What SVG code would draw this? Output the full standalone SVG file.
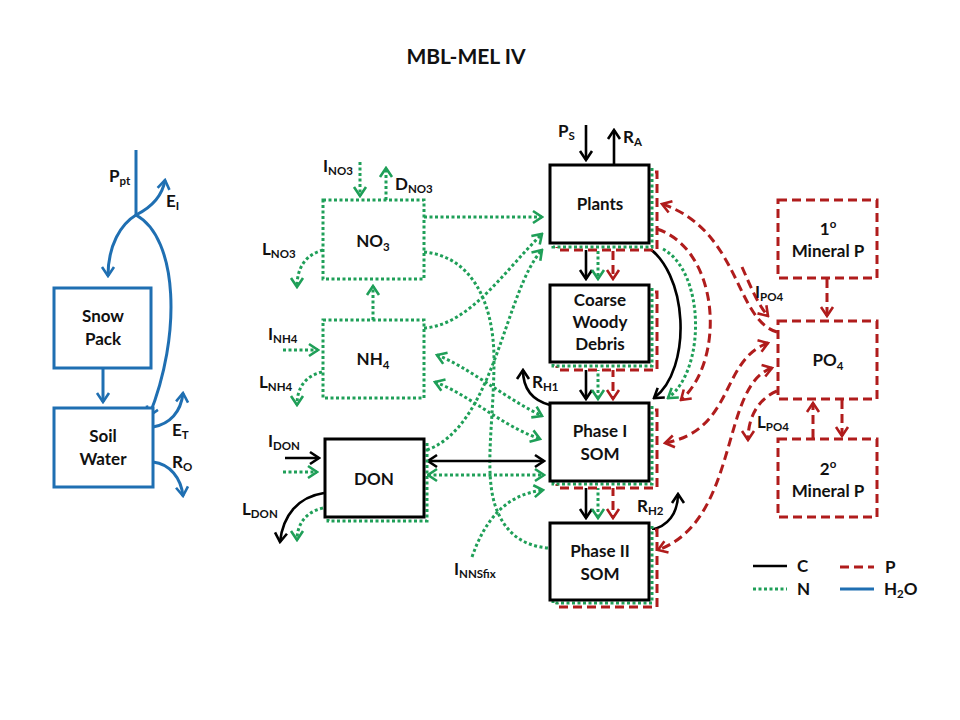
<svg xmlns="http://www.w3.org/2000/svg" width="960" height="720" viewBox="0 0 960 720">
<defs>
<style>
text { font-family: Lato, "Open Sans", "Liberation Sans", sans-serif; font-weight: bold; fill: #111; font-size: 17px; }
.box { text-anchor: middle; }
.sub { font-size: 11.5px; }
.c { fill: none; stroke: #000; stroke-width: 2.6; }
.n { fill: none; stroke: #1f9f58; stroke-width: 3; stroke-dasharray: 3 2.5; }
.p { fill: none; stroke: #b01c1c; stroke-width: 3; stroke-dasharray: 9 5; }
.w { fill: none; stroke: #1f6fb2; stroke-width: 3; }
.cb { fill: #fff; stroke: #000; stroke-width: 3; }
.wb { fill: #fff; stroke: #1f6fb2; stroke-width: 3; }
.nb { fill: #fff; stroke: #1f9f58; stroke-width: 3; stroke-dasharray: 3 2.5; }
.pb { fill: #fff; stroke: #b01c1c; stroke-width: 3; stroke-dasharray: 9 5; }
</style>
<marker id="mc" viewBox="-12 -8 14 16" markerWidth="14" markerHeight="16" refX="0" refY="0" orient="auto-start-reverse" markerUnits="userSpaceOnUse"><path d="M-9,-6 L0,0 L-9,6" fill="none" stroke="#000" stroke-width="2.6"/></marker>
<marker id="mn" viewBox="-12 -8 14 16" markerWidth="14" markerHeight="16" refX="0" refY="0" orient="auto-start-reverse" markerUnits="userSpaceOnUse"><path d="M-9,-6 L0,0 L-9,6" fill="none" stroke="#1f9f58" stroke-width="2.6"/></marker>
<marker id="mp" viewBox="-12 -8 14 16" markerWidth="14" markerHeight="16" refX="0" refY="0" orient="auto-start-reverse" markerUnits="userSpaceOnUse"><path d="M-9,-6 L0,0 L-9,6" fill="none" stroke="#b01c1c" stroke-width="2.6"/></marker>
<marker id="mw" viewBox="-12 -8 14 16" markerWidth="14" markerHeight="16" refX="0" refY="0" orient="auto-start-reverse" markerUnits="userSpaceOnUse"><path d="M-9,-6 L0,0 L-9,6" fill="none" stroke="#1f6fb2" stroke-width="2.6"/></marker>
</defs>
<rect width="960" height="720" fill="#fff"/>

<text id="title" x="466" y="64" text-anchor="middle" style="font-size:21px">MBL-MEL IV</text>

<g id="connectors">
  <!-- water -->
  <path class="w" d="M136,150 V215"/>
  <path class="w" d="M136,215 C150,208 162,198 165,180" marker-end="url(#mw)"/>
  <path class="w" d="M136,215 C121,224 108,245 108,276" marker-end="url(#mw)"/>
  <path class="w" d="M136,215 C178,238 182,335 149,416" marker-end="url(#mw)"/>
  <path class="w" d="M103,368 V402" marker-end="url(#mw)"/>
  <path class="w" d="M153,427 C170,424 181,412 183,393" marker-end="url(#mw)"/>
  <path class="w" d="M153,462 C170,464 181,478 183,496" marker-end="url(#mw)"/>

  <!-- N fluxes left -->
  <path class="n" d="M360,162 V196" marker-end="url(#mn)"/>
  <path class="n" d="M386,200 V168" marker-end="url(#mn)"/>
  <path class="n" d="M323,250 C305,255 297,268 297,287" marker-end="url(#mn)"/>
  <path class="n" d="M373,320 V286" marker-end="url(#mn)"/>
  <path class="n" d="M283,350 H318" marker-end="url(#mn)"/>
  <path class="n" d="M322,372 C305,376 297,388 297,405" marker-end="url(#mn)"/>
  <path class="c" d="M285,458 H319" marker-end="url(#mc)"/>
  <path class="n" d="M283,472 H317" marker-end="url(#mn)"/>
  <path class="c" d="M324,493 C298,497 283,515 280,542" marker-end="url(#mc)"/>
  <path class="n" d="M323,508 C305,512 297,525 297,540" marker-end="url(#mn)"/>

  <!-- N fluxes middle -->
  <path class="n" d="M424,217 H542" marker-end="url(#mn)"/>
  <path class="n" d="M424,328 C470,325 505,270 542,234" marker-end="url(#mn)"/>
  <path class="n" d="M427,450 C495,425 505,290 542,250" marker-end="url(#mn)"/>
  <path class="n" d="M424,252 C470,256 494,300 494,360 C494,420 484,470 495,505 C505,535 525,546 548,548"/>
  <path class="n" d="M437,355 C470,368 500,395 542,416" marker-start="url(#mn)" marker-end="url(#mn)"/>
  <path class="n" d="M435,382 C470,395 500,425 540,439" marker-start="url(#mn)" marker-end="url(#mn)"/>
  <path class="c" d="M428,461 H544" marker-start="url(#mc)" marker-end="url(#mc)"/>
  <path class="n" d="M428,475 H544" marker-start="url(#mn)" marker-end="url(#mn)"/>
  <path class="n" d="M472,557 C485,520 505,495 543,490" marker-end="url(#mn)"/>

  <!-- plants column -->
  <path class="c" d="M586,125 V160" marker-end="url(#mc)"/>
  <path class="c" d="M614,166 V130" marker-end="url(#mc)"/>
  <path class="c" d="M586,244 V279" marker-end="url(#mc)"/>
  <path class="n" d="M598,251 V279" marker-end="url(#mn)"/>
  <path class="p" d="M613,251 V279" marker-end="url(#mp)"/>
  <path class="c" d="M586,363 V399" marker-end="url(#mc)"/>
  <path class="n" d="M598,368 V399" marker-end="url(#mn)"/>
  <path class="p" d="M613,368 V399" marker-end="url(#mp)"/>
  <path class="c" d="M586,482 V518" marker-end="url(#mc)"/>
  <path class="n" d="M598,487 V518" marker-end="url(#mn)"/>
  <path class="p" d="M613,487 V518" marker-end="url(#mp)"/>
  <path class="c" d="M550,405 C531,400 523,388 523,370" marker-end="url(#mc)"/>
  <path class="c" d="M650,530 C668,527 678,513 678,494" marker-end="url(#mc)"/>
  <path class="c" d="M643,244 C690,270 692,370 654,398" marker-end="url(#mc)"/>
  <path class="n" d="M663,249 C705,272 706,370 668,398" marker-end="url(#mn)"/>
  <path class="p" d="M657,229 C720,250 726,360 681,400" marker-end="url(#mp)"/>

  <!-- P fluxes -->
  <path class="p" d="M777,332 C735,320 740,230 662,204" marker-end="url(#mp)"/>
  <path class="p" d="M768,343 C720,360 735,430 665,443" marker-start="url(#mp)" marker-end="url(#mp)"/>
  <path class="p" d="M772,368 C720,385 740,520 658,550" marker-start="url(#mp)" marker-end="url(#mp)"/>
  <path class="p" d="M742,267 C750,285 758,305 768,316" marker-end="url(#mp)"/>
  <path class="p" d="M777,391 C760,398 748,415 748,440" marker-end="url(#mp)"/>
  <path class="p" d="M827,279 V316" marker-end="url(#mp)"/>
  <path class="p" d="M842,400 V436" marker-end="url(#mp)"/>
  <path class="p" d="M813,438 V403" marker-end="url(#mp)"/>
</g>

<g id="snowpack">
  <rect class="wb" x="54" y="288" width="97" height="80"/>
  <text class="box" x="103" y="322">Snow</text>
  <text class="box" x="103" y="345">Pack</text>
</g>
<g id="soilwater">
  <rect class="wb" x="54" y="408" width="99" height="79"/>
  <text class="box" x="103" y="442">Soil</text>
  <text class="box" x="103" y="465">Water</text>
</g>

<g id="no3">
  <rect class="nb" x="323" y="200" width="101" height="79"/>
  <text class="box" x="373" y="247">NO<tspan class="sub" dy="4">3</tspan></text>
</g>
<g id="nh4">
  <rect class="nb" x="323" y="320" width="101" height="78"/>
  <text class="box" x="373" y="365">NH<tspan class="sub" dy="4">4</tspan></text>
</g>
<g id="don">
  <rect class="nb" x="328" y="443" width="99" height="78"/>
  <rect class="cb" x="325" y="439" width="99" height="78"/>
  <text class="box" x="374" y="485">DON</text>
</g>

<g id="plants">
  <rect class="pb" x="557" y="172" width="100" height="78"/>
  <rect class="nb" x="553" y="168" width="99" height="79"/>
  <rect class="cb" x="550" y="165" width="99" height="78"/>
  <text class="box" x="600" y="210">Plants</text>
</g>
<g id="cwd">
  <rect class="pb" x="557" y="292" width="100" height="78"/>
  <rect class="nb" x="553" y="288" width="99" height="78"/>
  <rect class="cb" x="550" y="285" width="99" height="77"/>
  <text class="box" x="600" y="306">Coarse</text>
  <text class="box" x="600" y="328">Woody</text>
  <text class="box" x="600" y="350">Debris</text>
</g>
<g id="phase1">
  <rect class="pb" x="557" y="410" width="100" height="78"/>
  <rect class="nb" x="553" y="406" width="99" height="78"/>
  <rect class="cb" x="550" y="403" width="99" height="78"/>
  <text class="box" x="600" y="437">Phase I</text>
  <text class="box" x="600" y="460">SOM</text>
</g>
<g id="phase2">
  <rect class="pb" x="557" y="530" width="100" height="77"/>
  <rect class="nb" x="553" y="526" width="99" height="77"/>
  <rect class="cb" x="550" y="523" width="99" height="77"/>
  <text class="box" x="600" y="557">Phase II</text>
  <text class="box" x="600" y="580">SOM</text>
</g>

<g id="mineral1">
  <rect class="pb" x="778" y="200" width="99" height="78"/>
  <text class="box" x="828" y="235">1<tspan class="sub" dy="-7">o</tspan></text>
  <text class="box" x="828" y="257">Mineral P</text>
</g>
<g id="po4">
  <rect class="pb" x="778" y="321" width="99" height="78"/>
  <text class="box" x="828" y="366">PO<tspan class="sub" dy="4">4</tspan></text>
</g>
<g id="mineral2">
  <rect class="pb" x="778" y="439" width="99" height="78"/>
  <text class="box" x="828" y="475">2<tspan class="sub" dy="-7">o</tspan></text>
  <text class="box" x="828" y="497">Mineral P</text>
</g>

<g id="labels">
  <text x="109" y="182">P<tspan class="sub" dy="3">pt</tspan></text>
  <text x="166" y="207">E<tspan class="sub" dy="3">I</tspan></text>
  <text x="172" y="436">E<tspan class="sub" dy="3">T</tspan></text>
  <text x="172" y="468">R<tspan class="sub" dy="3">O</tspan></text>
  <text x="323" y="172">I<tspan class="sub" dy="3">NO3</tspan></text>
  <text x="395" y="190">D<tspan class="sub" dy="3">NO3</tspan></text>
  <text x="262" y="255">L<tspan class="sub" dy="3">NO3</tspan></text>
  <text x="268" y="340">I<tspan class="sub" dy="3">NH4</tspan></text>
  <text x="259" y="388">L<tspan class="sub" dy="3">NH4</tspan></text>
  <text x="268" y="447">I<tspan class="sub" dy="3">DON</tspan></text>
  <text x="242" y="515">L<tspan class="sub" dy="3">DON</tspan></text>
  <text x="454" y="575">I<tspan class="sub" dy="3">NNSfix</tspan></text>
  <text x="558" y="137">P<tspan class="sub" dy="3">S</tspan></text>
  <text x="623" y="143">R<tspan class="sub" dy="3">A</tspan></text>
  <text x="532" y="388">R<tspan class="sub" dy="3">H1</tspan></text>
  <text x="637" y="512">R<tspan class="sub" dy="3">H2</tspan></text>
  <text x="755" y="298">I<tspan class="sub" dy="3">PO4</tspan></text>
  <text x="757" y="428">L<tspan class="sub" dy="3">PO4</tspan></text>
</g>

<g id="legend">
  <path class="c" d="M753,566 H787"/>
  <text x="797" y="572">C</text>
  <path class="n" d="M753,589 H787"/>
  <text x="797" y="595">N</text>
  <path class="p" d="M840,567 H874"/>
  <text x="885" y="573">P</text>
  <path class="w" d="M840,589 H874"/>
  <text x="884" y="595">H<tspan class="sub" dy="3">2</tspan><tspan dy="-3">O</tspan></text>
</g>
</svg>
